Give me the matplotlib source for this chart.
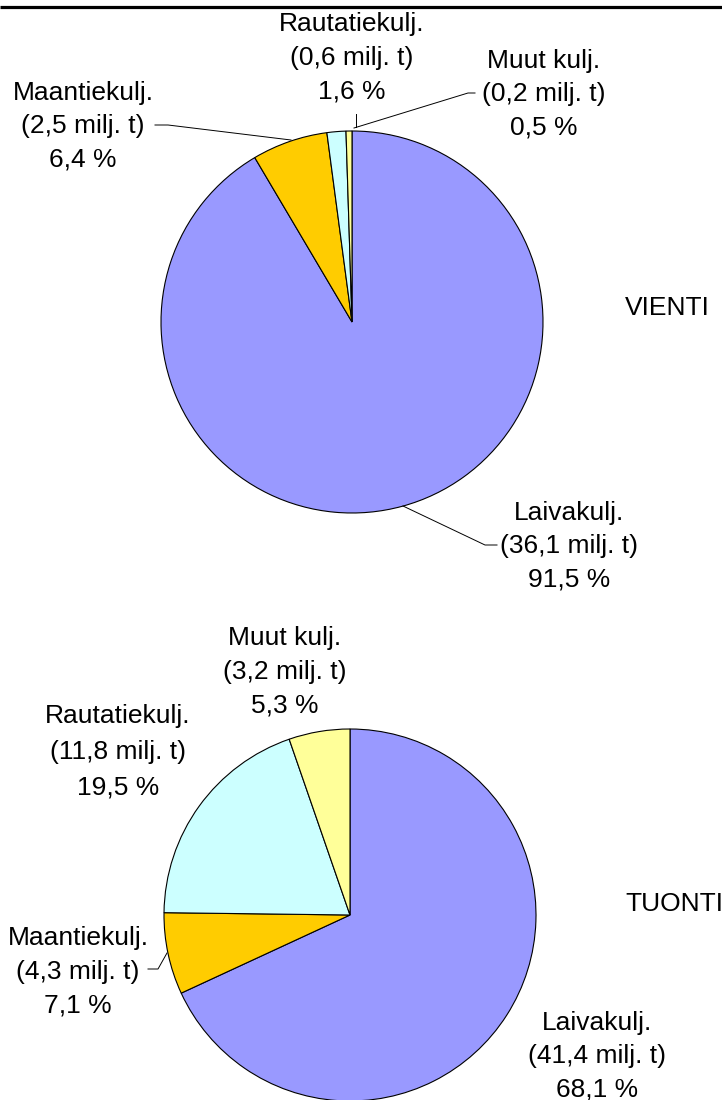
import matplotlib
matplotlib.use("Agg")
import matplotlib.pyplot as plt

plt.rcParams['font.family'] = ['Liberation Sans', 'DejaVu Sans']

# Data
categories = ["Laivakulj.", "Maantiekulj.", "Rautatiekulj.", "Muut kulj."]
colors = ["#9999FF", "#FFCC00", "#CCFFFF", "#FFFF99"]
vienti_share = [91.5, 6.4, 1.6, 0.5]
vienti_tons = ["36,1", "2,5", "0,6", "0,2"]
tuonti_share = [68.1, 7.1, 19.5, 5.3]
tuonti_tons = ["41,4", "4,3", "11,8", "3,2"]
titles = ["VIENTI", "TUONTI"]

W, H = 722, 1100
fig = plt.figure(figsize=(W / 100, H / 100), dpi=100)
ax = fig.add_axes([0, 0, 1, 1])

def Y(y):
    return H - y

FS = 19

def label(x, y, lines, sp=33.5):
    for i, t in enumerate(lines):
        ax.text(x, Y(y + i * sp), t, ha='center', va='center', fontsize=FS, color='black')

def fmt(v):
    return f"{v:.1f}".replace('.', ',') + " %"

def make_lines(cat, tons, share):
    return [cat, f"({tons} milj. t)", fmt(share)]

wp = dict(edgecolor='black', linewidth=0.8)
ax.pie(vienti_share, colors=colors, startangle=90, counterclock=False,
       center=(352, Y(322)), radius=191, wedgeprops=wp, frame=True)
ax.pie(tuonti_share, colors=colors, startangle=90, counterclock=False,
       center=(350, Y(915)), radius=186, wedgeprops=wp, frame=True)

# VIENTI labels
label(569, 513, make_lines(categories[0], vienti_tons[0], vienti_share[0]))
label(83, 93, make_lines(categories[1], vienti_tons[1], vienti_share[1]))
label(352, 24, make_lines(categories[2], vienti_tons[2], vienti_share[2]))
label(544, 61, make_lines(categories[3], vienti_tons[3], vienti_share[3]))

# TUONTI labels
label(597, 1023, make_lines(categories[0], tuonti_tons[0], tuonti_share[0]))
label(78, 938, make_lines(categories[1], tuonti_tons[1], tuonti_share[1]))
label(118, 716, make_lines(categories[2], tuonti_tons[2], tuonti_share[2]), sp=36)
label(285, 638, make_lines(categories[3], tuonti_tons[3], tuonti_share[3]))

ax.text(625, Y(308), titles[0], ha='left', va='center', fontsize=FS)
ax.text(625, Y(904), titles[1], ha='left', va='center', fontsize=FS)

# leader lines
lk = dict(color='black', linewidth=0.7)
ax.plot([155, 168, 291], [Y(125), Y(125), Y(140)], **lk)          # Maantie (vienti)
ax.plot([356, 356], [Y(114), Y(127)], **lk)                          # Rautatie (vienti)
ax.plot([475, 468, 354], [Y(93), Y(93), Y(128)], **lk)              # Muut (vienti)
ax.plot([403, 485, 497], [Y(506), Y(545), Y(545)], **lk)            # Laiva (vienti)
ax.plot([148, 158, 167], [Y(969), Y(969), Y(953)], **lk)            # Maantie (tuonti)

# top border
ax.plot([0, W], [Y(6.5), Y(6.5)], color='black', linewidth=2.3, solid_capstyle='butt')

ax.set_xlim(0, W)
ax.set_ylim(0, H)
ax.set_aspect('auto')
ax.axis('off')

fig.savefig("out.png", dpi=100)
